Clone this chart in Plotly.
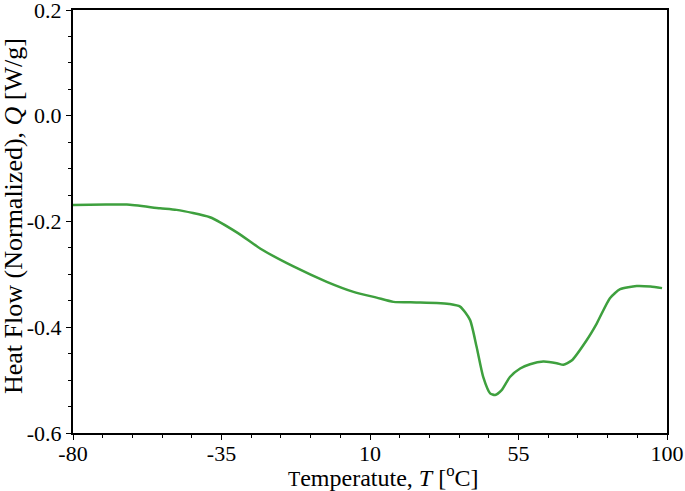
import plotly.graph_objects as go

temperature = [-80, -70, -63.7, -53.6, -48.6, -38.5, -30, -23.3, -13.2, -3.1, 5, 12.0, 17.1, 24, 30.2, 34, 37.3, 40.3, 42.3, 44.3, 46.4, 47.9, 49.9, 52.4, 55.5, 58.5, 62.5, 66.6, 68.6, 71.1, 75.7, 78.7, 82.7, 85.8, 90.8, 95, 98.5]
heat_flow = [-0.169, -0.168, -0.168, -0.175, -0.178, -0.192, -0.222, -0.251, -0.285, -0.314, -0.333, -0.344, -0.352, -0.353, -0.354, -0.356, -0.361, -0.386, -0.437, -0.494, -0.525, -0.528, -0.519, -0.494, -0.478, -0.470, -0.465, -0.468, -0.471, -0.463, -0.424, -0.393, -0.345, -0.328, -0.322, -0.323, -0.326]

x_ticks = [-80, -35, 10, 55, 100]
x_tick_labels = ["-80", "-35", "10", "55", "100"]
y_ticks = [0.2, 0.0, -0.2, -0.4, -0.6]
y_tick_labels = ["0.2", "0.0", "-0.2", "-0.4", "-0.6"]

x_title = "<span style='font-size:20px'>T</span>emperatute, <i>T</i> [<sup>o</sup>C]"
y_title = "Heat Flow (Normalized), <i>Q</i> [W/g]"

font = "Liberation Serif, Times New Roman, serif"

fig = go.Figure()
fig.add_trace(go.Scatter(x=temperature, y=heat_flow, mode="lines",
                         line=dict(color="#3ea03e", width=2.5, shape="spline", smoothing=0.6),
                         showlegend=False, hoverinfo="skip"))

fig.update_layout(
    width=685, height=491,
    margin=dict(l=73, r=18, t=10, b=58),
    paper_bgcolor="white", plot_bgcolor="white",
    font=dict(family=font, size=22, color="black"),
)
fig.update_xaxes(
    range=[-80, 100], tickvals=x_ticks, ticktext=x_tick_labels, automargin=False,
    ticklabeloverflow="allow", ticklabelstandoff=-5,
    showgrid=False, zeroline=False, showline=True, linecolor="black", linewidth=2,
    mirror=True, ticks="outside", ticklen=5, tickwidth=1, tickcolor="black",
    minor=dict(dtick=9, tick0=-80, ticks="outside", ticklen=3, tickcolor="black", showgrid=False),
    tickfont=dict(size=22),
)
fig.update_yaxes(
    range=[-0.6, 0.2], tickvals=y_ticks, ticktext=y_tick_labels, automargin=False,
    ticklabeloverflow="allow",
    showgrid=False, zeroline=False, showline=True, linecolor="black", linewidth=2,
    mirror=True, ticks="outside", ticklen=5, tickwidth=1, tickcolor="black",
    minor=dict(dtick=0.05, tick0=0, ticks="outside", ticklen=3, tickcolor="black", showgrid=False),
    tickfont=dict(size=22),
)
fig.add_annotation(text=x_title, xref="paper", yref="paper", x=(383 - 73) / 594, y=-(476 - 433) / 423,
                   xanchor="center", yanchor="middle", showarrow=False, font=dict(size=24))
fig.add_annotation(text=y_title, xref="paper", yref="paper", x=-(73 - 13) / 594, y=(433 - 216) / 423,
                   xanchor="center", yanchor="middle", textangle=-90, showarrow=False, font=dict(size=26))

fig.write_html("out.html", config={"displayModeBar": False},
               post_script="document.body.style.margin='0';document.body.style.overflow='hidden';")
